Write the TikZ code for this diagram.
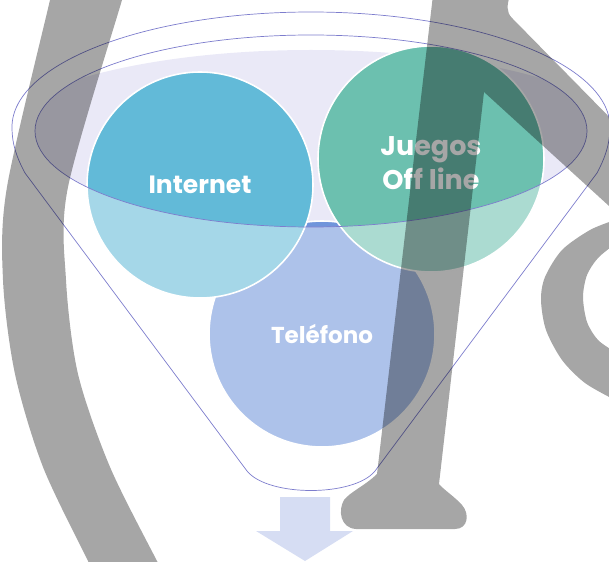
\documentclass[tikz,border=0pt]{standalone}
\usepackage{fontspec}
\setmainfont{Poppins}
\begin{document}
\begin{tikzpicture}[x=1pt,y=-1pt,
  bubble/.style={circle,minimum size=226pt,inner sep=0pt,draw=white,line width=1.6pt,
     text=white,font=\bfseries,align=center},
  funnelline/.style={draw=funnelc,line width=0.7pt},
  ghost/.style={fill=black,fill opacity=0.35}]
\definecolor{funnelc}{RGB}{125,125,205}
\definecolor{lav}{RGB}{234,233,247}
\definecolor{cint}{RGB}{98,186,216}
\definecolor{cjue}{RGB}{108,192,175}
\definecolor{ctel}{RGB}{112,149,219}
\definecolor{carrow}{RGB}{214,221,243}
\useasboundingbox (0,0) rectangle (609,561);
\clip (0,0) rectangle (609,561);
% opening fill
\begin{scope}
  \clip (311,131) ellipse [x radius=276, y radius=96];
  \fill[lav] (311,150) ellipse [x radius=330, y radius=100];
\end{scope}
% circles
\node[bubble,fill=ctel,font=\fontsize{23}{28}\selectfont\bfseries] (tel) at (322,334) {Teléfono};
\node[bubble,fill=cint,font=\fontsize{25}{30}\selectfont\bfseries] (int) at (200,185) {Internet};
\node[bubble,fill=cjue] (jue) at (431,159) {};
\node[text=white,font=\fontsize{27}{34}\selectfont\bfseries,align=center] (juetext) at (431,163) {Juegos\\Off line};
% funnel body
\fill[white,fill opacity=0.43,even odd rule]
  (12,127) arc[start angle=180,end angle=360,x radius=299,y radius=115]
  .. controls (610,145) and (604,160) .. (597,173) -- (375,471)
  .. controls (354,497) and (268,497) .. (247,471) -- (25,173)
  .. controls (17,158) and (12,145) .. (12,127) -- cycle
  (311,131) ellipse [x radius=276, y radius=96];
\draw[funnelline]
  (12,127) arc[start angle=180,end angle=360,x radius=299,y radius=115]
  .. controls (610,145) and (604,160) .. (597,173) -- (375,471)
  .. controls (354,497) and (268,497) .. (247,471) -- (25,173)
  .. controls (17,158) and (12,145) .. (12,127) -- cycle;
\draw[funnelline] (311,131) ellipse [x radius=276, y radius=96];
% arrow
\fill[carrow] (280,497) -- (330,497) -- (330,531) -- (353,531) -- (305,561)
  -- (256,531) -- (280,531) -- cycle;
% background letters
\fill[ghost] plot[smooth] coordinates {(52,-10) (50,0) (7,187) (3,280) (15,374) (43,467) (88,561) (95,575)}
  -- plot[smooth] coordinates {(165,575) (157,561) (110,467) (78,374) (66,280) (68,187) (122,0) (125,-10)} -- cycle;
\fill[ghost] (433,-5) -- (377,474) .. controls (366,485) and (350,492) .. (344,500)
  .. controls (338,510) and (340,528) .. (356,529) -- (455,529)
  .. controls (468,529) and (470,514) .. (462,505)
  .. controls (455,497) and (444,490) .. (439,484) -- (484,92)
  -- (620,216) -- (620,128) -- (512,18) .. controls (506,12) and (507,5) .. (510,-5) -- cycle;
\fill[ghost] plot[smooth] coordinates {(615,220) (590,230) (562,250) (545,277) (541,300) (546,330) (562,360) (585,383) (615,400)}
  -- plot[smooth] coordinates {(615,352) (598,340) (587,322) (583,297) (587,275) (598,258) (615,244)} -- cycle;
\end{tikzpicture}
\end{document}
